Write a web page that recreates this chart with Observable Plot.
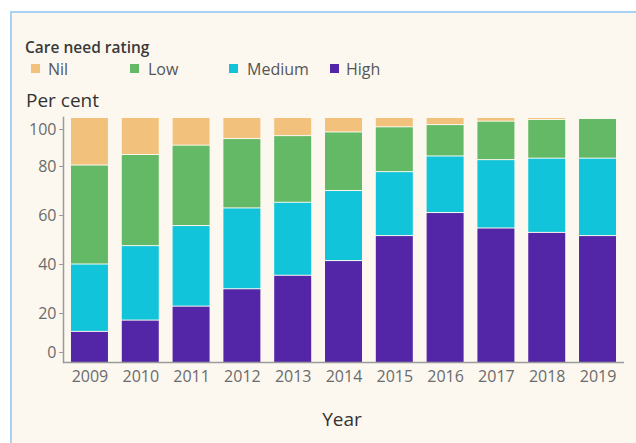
<!DOCTYPE html>
<html><head><meta charset="utf-8">
<script src="https://cdn.jsdelivr.net/npm/d3@7"></script>
<script src="https://cdn.jsdelivr.net/npm/@observablehq/plot@0.6"></script>
<style>
body{margin:0;background:#fff;width:636px;height:443px;overflow:hidden;position:relative;font-family:"Open Sans",sans-serif;}
#panel{position:absolute;left:10px;top:11px;width:626px;height:432px;background:#fcf8f0;border-top:2px solid #a9d2f2;border-left:2px solid #a9d2f2;box-sizing:border-box;}
.t{position:absolute;white-space:nowrap;}
#title{left:25px;top:37px;font-size:15.5px;line-height:20px;font-weight:600;color:#3a3a3a;}
.sw{position:absolute;width:9px;height:9px;top:64px;}
.lt{position:absolute;top:59px;font-size:16px;line-height:20px;color:#555;}
#ylab{left:26px;top:88px;font-size:19px;line-height:24px;color:#333;font-weight:500;}
#xlab{left:292px;width:100px;text-align:center;top:407px;font-size:19px;line-height:24px;color:#333;font-weight:500;}
#chart{position:absolute;left:0;top:110px;}
</style></head>
<body>
<div id="panel"></div>
<div id="title" class="t">Care need rating</div>
<div id="legend"></div>
<div id="ylab" class="t">Per cent</div>
<div id="xlab" class="t">Year</div>
<div id="chart"></div>
<script>
const years = ["2009","2010","2011","2012","2013","2014","2015","2016","2017","2018","2019"];
const series = ["Nil","Low","Medium","High"];
const colors = ["#f2c27d","#64b966","#12c4da","#5226a7"];
const high   = [12.7,17.3,23.0,30.1,35.6,41.6,51.8,61.2,54.9,53.1,51.8];
const medium = [27.5,30.4,32.9,33.0,29.8,28.6,26.1,23.1,27.9,30.3,31.6];
const low    = [40.4,37.2,32.8,28.3,27.2,23.9,18.3,12.8,15.7,15.8,16.2];
const nil    = [19.4,15.1,11.3,8.6,7.4,5.9,3.8,2.9,1.5,0.8,0.4];
const yTicksMid = [20,40,60,80];

const valuesBySeries = {Nil:nil, Low:low, Medium:medium, High:high};
const data = [];
for (const s of series) years.forEach((y,j)=>data.push({year:y, rating:s, value:valuesBySeries[s][j]}));

// legend
const legend = document.getElementById("legend");
const swX = [31,130,229,330], txX = [48,148,247,346];
series.forEach((s,i)=>{
  const sw = document.createElement("div"); sw.className="sw"; sw.style.left=swX[i]+"px"; sw.style.background=colors[i]; legend.appendChild(sw);
  const t = document.createElement("div"); t.className="lt"; t.style.left=txX[i]+"px"; t.textContent=s; legend.appendChild(t);
});

const axisStyle = {tickSize:4, tickPadding:3, stroke:"#9a9a9a", fill:"#6b6b6b", label:null};
const plot = Plot.plot({
  width:636, height:333, marginTop:7, marginBottom:81, marginLeft:63, marginRight:12,
  style:{background:"transparent", fontFamily:"Open Sans", fontSize:"16px", color:"#6b6b6b", overflow:"visible"},
  x:{domain:years, paddingInner:0.272, paddingOuter:0.157, round:false},
  y:{domain:[0,100]},
  color:{domain:series, range:colors},
  marks:[
    Plot.barY(data,{x:"year", y:"value", fill:"rating", order:["High","Medium","Low","Nil"], insetTop:1}),
    Plot.frame({anchor:"left", stroke:"#9a9a9a", strokeWidth:1.5}),
    Plot.ruleY([0],{stroke:"#9a9a9a", strokeWidth:1.5}),
    Plot.axisY(yTicksMid, axisStyle),
    Plot.axisY([0], {...axisStyle, dy:-10}),
    Plot.axisY([100], {...axisStyle, dy:12}),
    Plot.axisX({tickSize:0, tickPadding:8, fill:"#6b6b6b", label:null})
  ]
});
document.getElementById("chart").appendChild(plot);
</script>
</body></html>
